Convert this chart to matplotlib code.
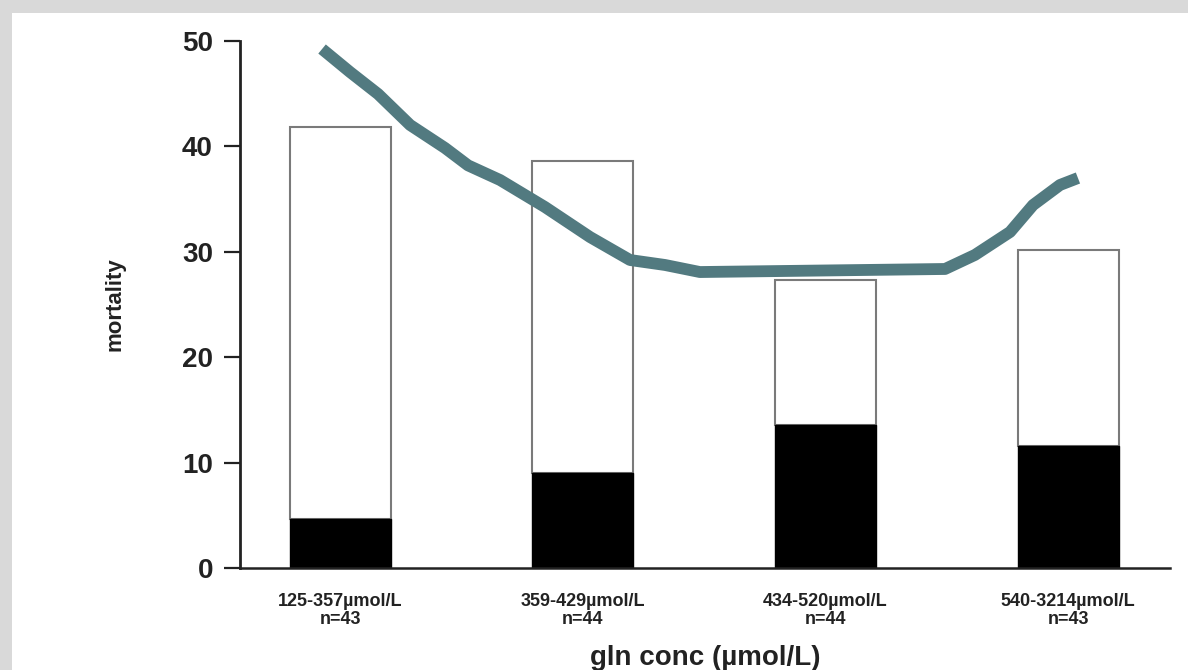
import matplotlib
matplotlib.use("Agg")
import matplotlib.pyplot as plt
from matplotlib.patches import Rectangle

# ---- data ----
categories = ["125-357µmol/L\nn=43", "359-429µmol/L\nn=44",
              "434-520µmol/L\nn=44", "540-3214µmol/L\nn=43"]
total_mortality = [41.8, 38.6, 27.3, 30.2]
black_part = [4.65, 9.0, 13.6, 11.6]
curve_x = [-0.076, 0.039, 0.155, 0.287, 0.431, 0.526, 0.658, 0.843, 1.029,
           1.194, 1.338, 1.482, 2.493, 2.616, 2.761, 2.856, 2.967, 3.041]
curve_y = [49.24, 47.06, 44.97, 42.03, 39.85, 38.2, 36.81, 34.25, 31.40,
           29.22, 28.75, 28.08, 28.37, 29.70, 31.88, 34.44, 36.34, 37.00]
yticks = [0, 10, 20, 30, 40, 50]

plt.rcParams['font.family'] = ['Liberation Sans', 'DejaVu Sans']

W, H = 1188, 670
fig = plt.figure(figsize=(W / 100, H / 100), dpi=100)
fig.patch.set_facecolor('#d9d9d9')
fig.add_artist(Rectangle((12 / W, 0), 1 - 12 / W, 1 - 13 / H,
                         transform=fig.transFigure, facecolor='white',
                         edgecolor='none', zorder=0))

ax = fig.add_axes([240 / W, 1 - 568 / H, 930 / W, 527 / H])
ax.set_facecolor('white')

x = list(range(len(categories)))
bw = 0.4165
white_part = [t - b for t, b in zip(total_mortality, black_part)]
ax.bar(x, white_part, bottom=black_part, width=bw, facecolor='white',
       edgecolor='#7a7a7a', linewidth=1.5, zorder=2)
ax.bar(x, black_part, width=bw, facecolor='black', edgecolor='black',
       linewidth=1.0, zorder=2)

ax.plot(curve_x, curve_y, color='#527a80', lw=8.5, solid_capstyle='butt',
        solid_joinstyle='round', zorder=3, clip_on=False)

ax.set_xlim(-0.4144, 3.4206)
ax.set_ylim(0, 50)
ax.set_yticks(yticks)
ax.set_yticklabels([str(v) for v in yticks], fontsize=20, fontweight='bold',
                   color='#222222')
ax.set_xticks(x)
ax.set_xticklabels(categories, fontsize=13, fontweight='bold',
                   color='#222222', linespacing=1.1)
ax.tick_params(axis='x', length=0, pad=18)
ax.tick_params(axis='y', length=11.5, width=1.6, pad=8, color='#222222')

for s in ('top', 'right'):
    ax.spines[s].set_visible(False)
ax.spines['left'].set_linewidth(2.0)
ax.spines['bottom'].set_linewidth(1.8)
ax.spines['left'].set_color('#222222')
ax.spines['bottom'].set_color('#222222')

ax.set_ylabel('mortality', fontsize=16, fontweight='bold', color='#222222',
              va='center')
ax.yaxis.set_label_coords(-0.1344, 0.5)
ax.set_xlabel('gln conc (µmol/L)', fontsize=20, fontweight='bold',
              color='#222222', va='center')
ax.xaxis.set_label_coords(0.5, -0.1708)

fig.savefig('out.png', dpi=100, facecolor=fig.get_facecolor())
